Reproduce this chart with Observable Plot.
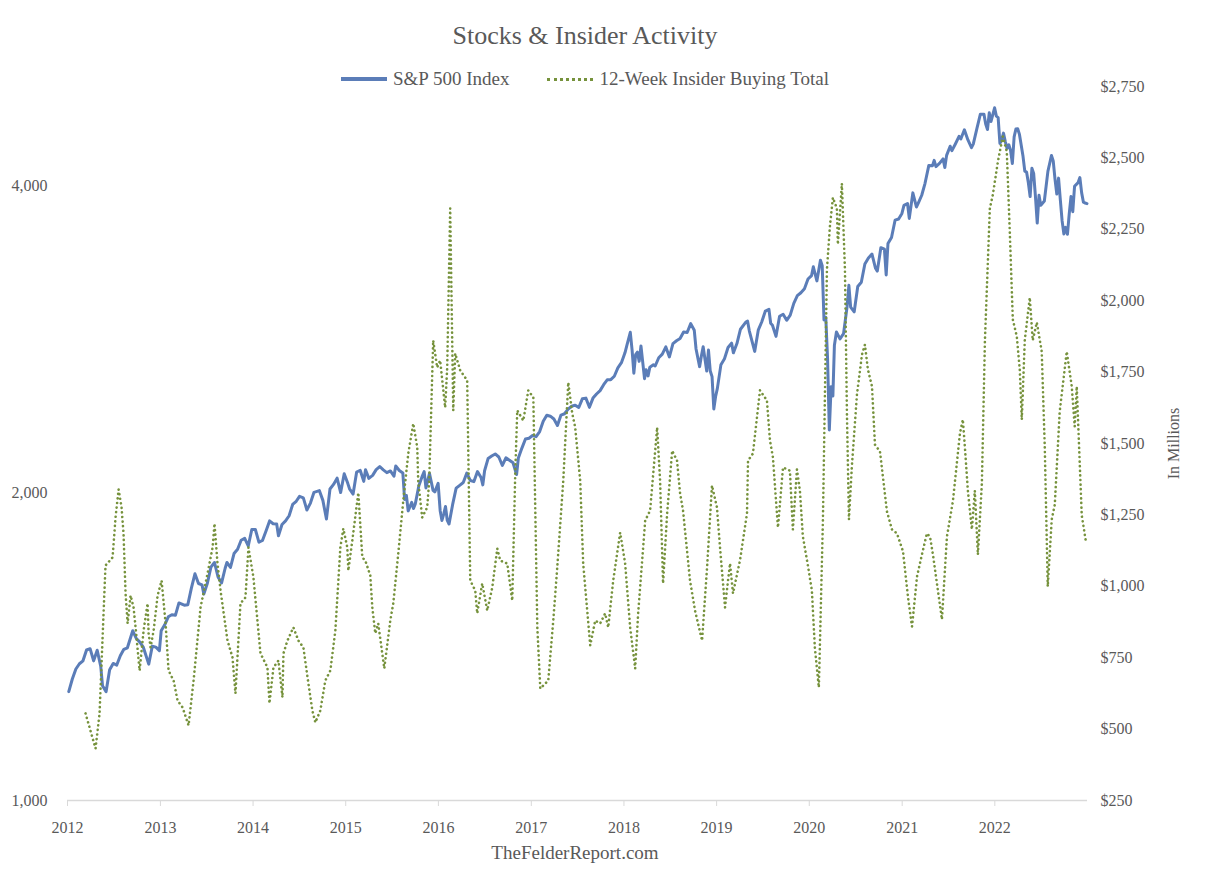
<!DOCTYPE html>
<html>
<head>
<meta charset="utf-8">
<script src="https://cdn.jsdelivr.net/npm/d3@7"></script>
<script src="https://cdn.jsdelivr.net/npm/@observablehq/plot@0.6"></script>
<style>
  html, body { margin: 0; padding: 0; background: #fff; }
  body { width: 1206px; height: 875px; position: relative; font-family: "Liberation Serif", "DejaVu Serif", serif; color: #595959; overflow: hidden; }
  #title { height: 70px; width: 1170px; text-align: center; font-size: 26px; line-height: 26px; box-sizing: border-box; }
  #title span { display: inline-block; margin-top: 23px; }
  #legend { position: absolute; top: 68px; left: 0; width: 1170px; display: flex; justify-content: center; align-items: center; font-size: 19px; z-index: 2; }
  .item { display: flex; align-items: center; margin: 0 19px; }
  .swatch { width: 46px; height: 0; margin-right: 6px; }
  #chart { height: 770px; }
  #footer { height: 35px; width: 1150px; text-align: center; font-size: 19px; line-height: 26px; }
</style>
</head>
<body>
<div id="title"><span>Stocks &amp; Insider Activity</span></div>
<div id="legend">
  <div class="item"><div class="swatch" style="border-top:4px solid #5B7DB8"></div><span>S&amp;P 500 Index</span></div>
  <div class="item"><div class="swatch" style="border-top:3px dotted #76923C"></div><span>12-Week Insider Buying Total</span></div>
</div>
<div id="chart"></div>
<div id="footer">TheFelderReport.com</div>
<script>
// ---------- data ----------
const spDates = [
"2012-01-06","2012-01-20","2012-02-03","2012-02-17","2012-03-02","2012-03-16","2012-03-30","2012-04-13","2012-04-27","2012-05-11","2012-05-18","2012-06-01","2012-06-15","2012-06-29","2012-07-13","2012-07-27","2012-08-10","2012-08-24","2012-09-14","2012-09-28","2012-10-12","2012-10-26","2012-11-16","2012-11-30","2012-12-14","2012-12-28",
"2013-01-04","2013-01-18","2013-02-01","2013-02-15","2013-03-01","2013-03-15","2013-04-05","2013-04-19","2013-05-03","2013-05-17","2013-05-31","2013-06-14","2013-06-21","2013-07-05","2013-07-19","2013-08-02","2013-08-16","2013-08-30","2013-09-13","2013-09-20","2013-10-04","2013-10-18","2013-11-01","2013-11-15","2013-11-29","2013-12-13","2013-12-27",
"2014-01-10","2014-01-24","2014-02-07","2014-02-21","2014-03-07","2014-03-21","2014-04-04","2014-04-11","2014-04-25","2014-05-09","2014-05-23","2014-06-06","2014-06-20","2014-07-03","2014-07-18","2014-08-01","2014-08-15","2014-08-29","2014-09-19","2014-10-03","2014-10-17","2014-10-31","2014-11-14","2014-11-28","2014-12-12","2014-12-26",
"2015-01-09","2015-01-16","2015-01-30","2015-02-13","2015-02-27","2015-03-13","2015-03-20","2015-04-02","2015-04-17","2015-05-01","2015-05-15","2015-05-29","2015-06-12","2015-06-26","2015-07-10","2015-07-17","2015-07-31","2015-08-14","2015-08-21","2015-08-28","2015-09-04","2015-09-18","2015-09-25","2015-10-02","2015-10-16","2015-10-30","2015-11-06","2015-11-13","2015-11-27","2015-12-11","2015-12-18","2015-12-31",
"2016-01-08","2016-01-15","2016-01-22","2016-01-29","2016-02-05","2016-02-12","2016-02-26","2016-03-11","2016-03-25","2016-04-08","2016-04-22","2016-05-06","2016-05-20","2016-06-03","2016-06-17","2016-06-24","2016-07-01","2016-07-15","2016-07-29","2016-08-12","2016-08-26","2016-09-09","2016-09-23","2016-10-07","2016-10-21","2016-11-04","2016-11-11","2016-11-25","2016-12-09","2016-12-23",
"2017-01-06","2017-01-20","2017-02-03","2017-02-17","2017-03-03","2017-03-17","2017-03-31","2017-04-14","2017-04-28","2017-05-12","2017-05-26","2017-06-09","2017-06-23","2017-07-07","2017-07-21","2017-08-04","2017-08-18","2017-09-01","2017-09-15","2017-09-29","2017-10-13","2017-10-27","2017-11-10","2017-11-24","2017-12-08","2017-12-22",
"2018-01-05","2018-01-12","2018-01-26","2018-02-02","2018-02-09","2018-02-16","2018-02-23","2018-03-02","2018-03-09","2018-03-23","2018-03-29","2018-04-06","2018-04-13","2018-04-27","2018-05-04","2018-05-18","2018-06-01","2018-06-15","2018-06-29","2018-07-13","2018-07-27","2018-08-10","2018-08-24","2018-09-07","2018-09-21","2018-10-05","2018-10-12","2018-10-26","2018-11-02","2018-11-09","2018-11-23","2018-11-30","2018-12-07","2018-12-14","2018-12-21","2018-12-28",
"2019-01-04","2019-01-18","2019-02-01","2019-02-15","2019-03-01","2019-03-08","2019-03-22","2019-04-05","2019-04-26","2019-05-03","2019-05-10","2019-05-31","2019-06-14","2019-06-28","2019-07-12","2019-07-26","2019-08-02","2019-08-09","2019-08-23","2019-09-06","2019-09-20","2019-10-04","2019-10-18","2019-11-01","2019-11-15","2019-11-29","2019-12-13","2019-12-27",
"2020-01-10","2020-01-17","2020-01-31","2020-02-14","2020-02-21","2020-02-28","2020-03-06","2020-03-13","2020-03-20","2020-03-27","2020-04-03","2020-04-09","2020-04-17","2020-05-01","2020-05-15","2020-05-29","2020-06-05","2020-06-12","2020-06-26","2020-07-10","2020-07-24","2020-08-07","2020-08-21","2020-09-04","2020-09-18","2020-09-25","2020-10-09","2020-10-23","2020-10-30","2020-11-06","2020-11-20","2020-12-04","2020-12-18","2020-12-31",
"2021-01-08","2021-01-22","2021-01-29","2021-02-12","2021-02-26","2021-03-05","2021-03-19","2021-04-01","2021-04-16","2021-04-30","2021-05-07","2021-05-14","2021-05-28","2021-06-11","2021-06-18","2021-06-25","2021-07-09","2021-07-16","2021-07-30","2021-08-13","2021-08-20","2021-09-03","2021-09-17","2021-10-01","2021-10-08","2021-10-22","2021-11-05","2021-11-19","2021-11-26","2021-12-03","2021-12-10","2021-12-17","2021-12-31",
"2022-01-07","2022-01-14","2022-01-21","2022-01-28","2022-02-04","2022-02-11","2022-02-18","2022-02-25","2022-03-04","2022-03-11","2022-03-18","2022-03-25","2022-04-01","2022-04-08","2022-04-22","2022-04-29","2022-05-06","2022-05-13","2022-05-20","2022-05-27","2022-06-03","2022-06-10","2022-06-17","2022-06-24","2022-07-01","2022-07-15","2022-07-29","2022-08-12","2022-08-19","2022-08-26","2022-09-02","2022-09-09","2022-09-16","2022-09-23","2022-09-30","2022-10-07","2022-10-14","2022-10-21","2022-10-28","2022-11-04","2022-11-11","2022-11-25","2022-12-02","2022-12-09","2022-12-16","2022-12-23","2022-12-30"
];
const spValues = [
1278,1315,1345,1361,1370,1404,1408,1370,1403,1353,1295,1278,1343,1362,1357,1386,1406,1411,1466,1441,1429,1412,1360,1416,1413,1402,
1466,1486,1513,1520,1518,1561,1553,1555,1614,1667,1631,1626,1593,1632,1692,1710,1655,1633,1688,1710,1691,1745,1762,1798,1806,1775,1842,
1842,1790,1797,1836,1878,1866,1865,1816,1863,1878,1900,1949,1963,1985,1978,1925,1955,2003,2011,1967,1886,2018,2039,2068,2002,2089,
2044,2019,1995,2097,2105,2053,2108,2067,2081,2108,2123,2107,2094,2102,2077,2126,2104,2092,1971,1989,1921,1958,1931,1951,2033,2079,2099,2023,2090,2012,2005,2044,
1922,1880,1907,1940,1880,1865,1948,2022,2035,2048,2092,2057,2052,2099,2071,2037,2103,2162,2174,2184,2169,2128,2165,2153,2141,2085,2164,2213,2259,2263,
2277,2271,2297,2351,2383,2378,2363,2329,2384,2391,2416,2432,2438,2425,2473,2477,2426,2477,2500,2519,2553,2581,2582,2602,2652,2683,
2743,2786,2873,2762,2620,2732,2747,2691,2786,2588,2641,2604,2656,2670,2663,2713,2735,2780,2718,2801,2819,2833,2875,2872,2930,2886,2767,2659,2723,2781,2633,2760,2633,2600,2417,2486,
2532,2671,2707,2776,2804,2743,2801,2893,2940,2946,2881,2752,2887,2942,3014,3026,2932,2919,2847,2979,2992,2952,2986,3067,3120,3141,3169,3240,
3265,3330,3226,3380,3338,2954,2972,2711,2305,2541,2489,2790,2875,2831,2864,3044,3194,3041,3009,3185,3216,3351,3397,3427,3319,3298,3477,3465,3270,3510,3558,3699,3709,3756,
3825,3841,3714,3934,3811,3842,3913,4020,4185,4181,4233,4174,4204,4247,4166,4281,4370,4327,4395,4468,4442,4535,4433,4357,4391,4545,4698,4698,4595,4538,4712,4621,4766,
4677,4662,4398,4432,4501,4419,4349,4385,4329,4204,4463,4543,4546,4488,4272,4132,4123,4024,3901,4158,4109,3901,3675,3912,3825,3863,4130,4280,4228,4058,3924,4067,3873,3693,3586,3640,3583,3753,3901,3771,3993,4026,4072,3934,3852,3845,3840
];

// insider buying: time in decimal years and 12-week totals ($ millions)
const insYears = [
2012.194,2012.302,2012.345,2012.388,2012.409,2012.485,2012.517,2012.550,2012.582,2012.603,2012.625,2012.647,2012.679,2012.711,2012.733,2012.776,2012.819,2012.862,2012.873,2012.894,2012.927,2012.970,
2013.013,2013.056,2013.088,2013.142,2013.185,2013.239,2013.304,2013.358,2013.433,2013.509,2013.563,2013.584,2013.616,2013.649,2013.724,2013.778,2013.810,2013.864,2013.918,2013.950,
2014.004,2014.080,2014.155,2014.177,2014.220,2014.274,2014.317,2014.328,2014.371,2014.435,2014.489,2014.543,2014.597,2014.640,2014.672,2014.726,2014.780,2014.834,2014.888,2014.942,2014.974,
2015.017,2015.028,2015.071,2015.125,2015.136,2015.179,2015.211,2015.265,2015.287,2015.319,2015.351,2015.416,2015.481,2015.513,2015.567,2015.621,2015.675,2015.729,2015.772,2015.782,2015.825,2015.879,2015.901,2015.944,2015.987,
2016.019,2016.073,2016.095,2016.127,2016.160,2016.181,2016.235,2016.310,2016.321,2016.343,2016.397,2016.418,2016.472,2016.526,2016.580,2016.634,2016.666,2016.741,2016.795,2016.828,2016.849,2016.914,2016.968,
2017.022,2017.065,2017.097,2017.183,2017.237,2017.280,2017.345,2017.399,2017.442,2017.474,2017.528,2017.560,2017.636,2017.690,2017.744,2017.797,2017.830,2017.884,2017.959,
2018.013,2018.067,2018.121,2018.153,2018.229,2018.282,2018.358,2018.390,2018.422,2018.466,2018.520,2018.573,2018.606,2018.638,2018.713,2018.767,2018.843,2018.897,2018.950,
2019.004,2019.037,2019.091,2019.123,2019.145,2019.177,2019.252,2019.328,2019.339,2019.392,2019.468,2019.543,2019.576,2019.608,2019.662,2019.716,2019.791,2019.823,2019.867,2019.899,2019.931,2019.985,
2020.028,2020.060,2020.103,2020.114,2020.147,2020.190,2020.222,2020.254,2020.297,2020.308,2020.351,2020.384,2020.405,2020.427,2020.459,2020.513,2020.567,2020.599,2020.631,2020.675,2020.707,2020.761,2020.836,2020.890,2020.944,
2021.009,2021.063,2021.106,2021.160,2021.213,2021.267,2021.300,2021.332,2021.375,2021.429,2021.483,2021.547,2021.623,2021.655,2021.677,2021.709,2021.752,2021.784,2021.817,2021.860,2021.893,2021.946,2021.979,
2022.033,2022.086,2022.129,2022.162,2022.194,2022.237,2022.269,2022.291,2022.323,2022.377,2022.409,2022.453,2022.506,2022.539,2022.571,2022.614,2022.647,2022.700,2022.776,2022.830,2022.862,2022.884,2022.938,2022.981
];
const insValues = [
555,432,555,905,1073,1101,1241,1339,1276,1185,975,870,968,926,856,705,845,940,835,786,845,968,
1020,870,705,670,600,576,513,670,926,1045,1136,1220,1080,985,810,751,625,940,961,1136,
1031,765,716,590,716,740,611,765,810,856,810,786,660,565,523,565,670,705,845,1136,1202,
1136,1055,1160,1300,1328,1101,1090,1038,926,835,870,712,880,940,1115,1300,1465,1570,1486,1370,1241,1276,1370,1861,1766,
1791,1626,1766,2323,1616,1815,1756,1721,1486,1020,985,905,1010,915,996,1132,1090,1080,950,1405,1616,1580,1686,
1661,856,642,670,880,1066,1370,1714,1605,1556,1370,1080,793,880,870,905,856,1020,1188,
1080,856,712,905,1230,1265,1556,1370,1010,1255,1475,1440,1325,1265,1020,915,810,1066,1353,
1276,1136,926,1020,1080,975,1090,1255,1440,1465,1686,1651,1510,1451,1206,1416,1405,1199,1409,1335,1174,1073,
985,786,646,786,1234,2109,2260,2361,2323,2197,2410,2109,1612,1234,1423,1671,1811,1846,1759,1700,1496,1472,1262,1199,1185,
1122,961,859,1034,1111,1185,1174,1111,1010,884,1174,1297,1535,1584,1486,1335,1199,1335,1111,1360,1861,2323,2372,
2487,2575,2522,2235,1934,1875,1759,1584,1861,2011,1861,1924,1822,1486,999,1234,1286,1612,1822,1700,1560,1700,1248,1160
];

const yearTicks = [2012,2013,2014,2015,2016,2017,2018,2019,2020,2021,2022];
const leftTicks = [1000, 2000, 4000];
const rightTicks = [250, 500, 750, 1000, 1250, 1500, 1750, 2000, 2250, 2500, 2750];
const leftDomain = [1000, 5000];
const rightDomain = [250, 2750];

// ---------- helpers ----------
const utc = s => new Date(s + "T00:00:00Z");
const yearToDate = t => {
  const y = Math.floor(t);
  const a = Date.UTC(y, 0, 1), b = Date.UTC(y + 1, 0, 1);
  return new Date(a + (t - y) * (b - a));
};
// map the right-axis (linear) values onto the left (log) scale so both share the frame
const lr = Math.log(leftDomain[1] / leftDomain[0]);
const toLeft = v => leftDomain[0] * Math.exp(lr * (v - rightDomain[0]) / (rightDomain[1] - rightDomain[0]));
const fromLeft = y => rightDomain[0] + (rightDomain[1] - rightDomain[0]) * Math.log(y / leftDomain[0]) / lr;

const sp = spDates.map((d, i) => ({date: utc(d), value: spValues[i]}));
const ins = insYears.map((t, i) => ({date: yearToDate(t), value: insValues[i], y: toLeft(insValues[i])}));

const chart = Plot.plot({
  width: 1206,
  height: 770,
  marginTop: 16,
  marginBottom: 40,
  marginLeft: 67,
  marginRight: 119,
  style: {fontFamily: '"Liberation Serif", "DejaVu Serif", serif', fontSize: "16px", color: "#595959", background: "transparent", overflow: "visible"},
  x: {type: "utc", domain: [utc("2012-01-01"), utc("2023-01-01")]},
  y: {type: "log", domain: leftDomain},
  marks: [
    Plot.ruleY([leftDomain[0]], {stroke: "#d9d9d9", strokeWidth: 1.5}),
    Plot.axisX(yearTicks.map(y => utc(y + "-01-01")), {tickFormat: d => String(d.getUTCFullYear()), tickSize: 6, tickPadding: 15, stroke: "#d9d9d9", label: null}),
    Plot.axisY(leftTicks, {anchor: "left", tickSize: 0, tickPadding: 20, tickFormat: d3.format(","), label: null}),
    Plot.axisY(rightTicks.map(toLeft), {anchor: "right", tickSize: 0, tickPadding: 13, tickFormat: d => "$" + d3.format(",")(Math.round(fromLeft(d))), label: "In Millions", labelAnchor: "center", labelArrow: "none", labelOffset: 91}),
    Plot.line(sp, {x: "date", y: "value", stroke: "#5B7DB8", strokeWidth: 3, strokeLinejoin: "round"}),
    Plot.line(ins, {x: "date", y: "y", stroke: "#76923C", strokeWidth: 2.6, strokeDasharray: "0.1,4.5", strokeLinecap: "round"})
  ]
});
document.getElementById("chart").appendChild(chart);
</script>
</body>
</html>
